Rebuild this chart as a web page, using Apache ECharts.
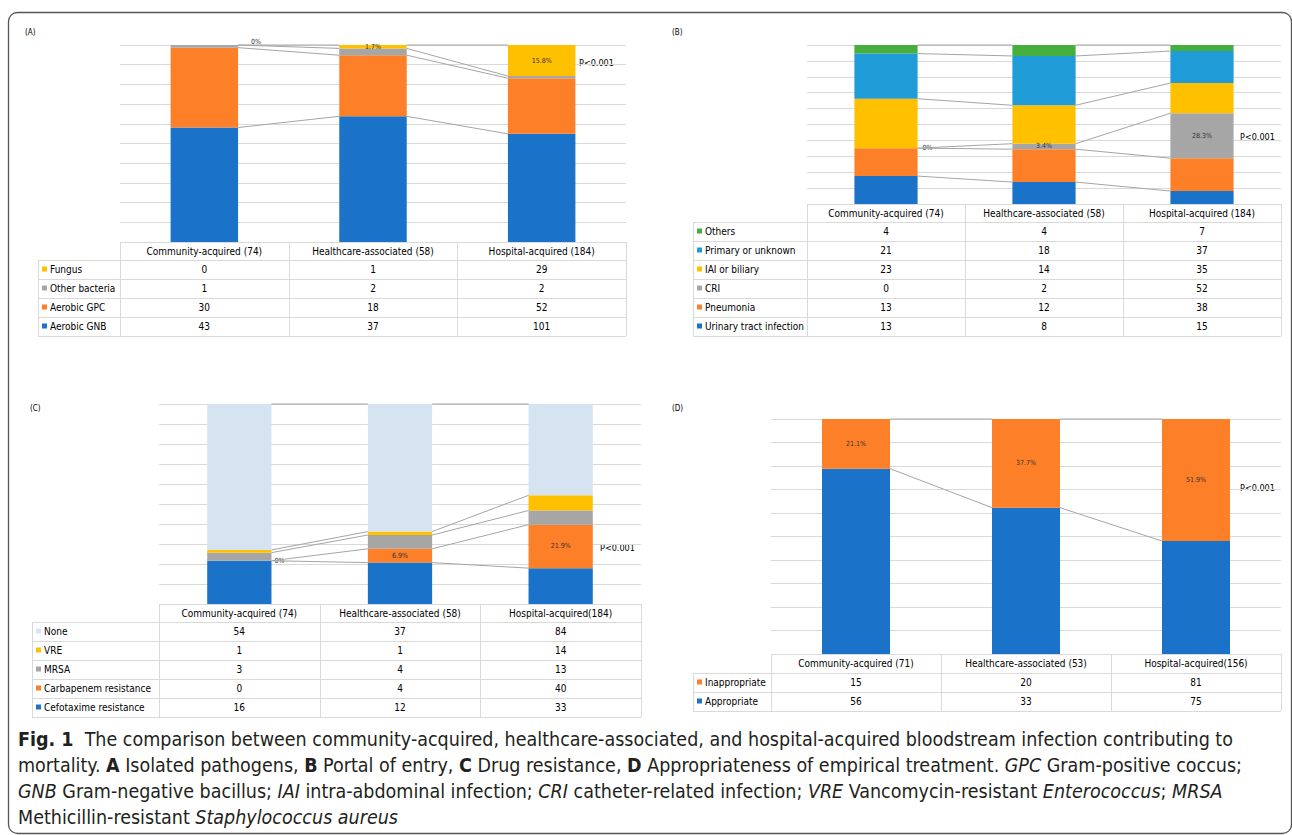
<!DOCTYPE html>
<html>
<head>
<meta charset="utf-8">
<script src="https://cdn.jsdelivr.net/npm/echarts@6/dist/echarts.min.js"></script>
<style>
  html, body { margin: 0; padding: 0; background: #fff; }
  #chart { width: 1292px; height: 835px; }
</style>
</head>
<body>
<div id="chart"></div>
<script>
// ---- data: (A) isolated pathogens
const aCategories = ['Community-acquired (74)', 'Healthcare-associated (58)', 'Hospital-acquired (184)']
const aGNB = [43, 37, 101]
const aGPC = [30, 18, 52]
const aOther = [1, 2, 2]
const aFungus = [0, 1, 29]
const aFungusLabels = ['0%', '1.7%', '15.8%']

// ---- (B) portal of entry
const bCategories = ['Community-acquired (74)', 'Healthcare-associated (58)', 'Hospital-acquired (184)']
const bUTI = [13, 8, 15]
const bPneumonia = [13, 12, 38]
const bCRI = [0, 2, 52]
const bIAI = [23, 14, 35]
const bPrimary = [21, 18, 37]
const bOthers = [4, 4, 7]
const bCRILabels = ['0%', '3.4%', '28.3%']

// ---- (C) drug resistance
const cCategories = ['Community-acquired (74)', 'Healthcare-associated (58)', 'Hospital-acquired(184)']
const cCefotaxime = [16, 12, 33]
const cCarbapenem = [0, 4, 40]
const cMRSA = [3, 4, 13]
const cVRE = [1, 1, 14]
const cNone = [54, 37, 84]
const cCarbapenemLabels = ['0%', '6.9%', '21.9%']

// ---- (D) appropriateness of empirical treatment
const dCategories = ['Community-acquired (71)', 'Healthcare-associated (53)', 'Hospital-acquired(156)']
const dAppropriate = [56, 33, 75]
const dInappropriate = [15, 20, 81]
const dInappropriateLabels = ['21.1%', '37.7%', '51.9%']

const pValueText = 'P<0.001'

// colours
const BLUE = '#1a73c8'
const ORANGE = '#fd7f27'
const GRAY = '#a6a6a6'
const YELLOW = '#ffc000'
const GREEN = '#45ae3d'
const CYAN = '#1f9bd7'
const PALE = '#d6e4f2'
const GRID = '#d9d9d9'
const FONT = '"DejaVu Sans Condensed", "Liberation Sans", sans-serif'
const CAPTION_FONT = '"DejaVu Sans Condensed", "Liberation Sans", sans-serif'

const panels = [
  {
    grid: { left: 120, top: 45, width: 506, height: 197 },
    legendLeft: 38, headH: 18, rowH: 19,
    tag: '(A)', tagPos: [25, 32], pPos: [579, 63], zeroOffset: [10, -3],
    categories: aCategories,
    stack: [
      { name: 'Aerobic GNB', values: aGNB, color: BLUE },
      { name: 'Aerobic GPC', values: aGPC, color: ORANGE },
      { name: 'Other bacteria', values: aOther, color: GRAY },
      { name: 'Fungus', values: aFungus, color: YELLOW, labels: aFungusLabels }
    ]
  },
  {
    grid: { left: 807, top: 45, width: 474, height: 159 },
    legendLeft: 693, headH: 18, rowH: 19,
    tag: '(B)', tagPos: [672, 32], pPos: [1240, 137], zeroOffset: [2, 0],
    categories: bCategories,
    stack: [
      { name: 'Urinary tract infection', values: bUTI, color: BLUE },
      { name: 'Pneumonia', values: bPneumonia, color: ORANGE },
      { name: 'CRI', values: bCRI, color: GRAY, labels: bCRILabels },
      { name: 'IAI or biliary', values: bIAI, color: YELLOW },
      { name: 'Primary or unknown', values: bPrimary, color: CYAN },
      { name: 'Others', values: bOthers, color: GREEN }
    ]
  },
  {
    grid: { left: 159, top: 404, width: 482, height: 200 },
    legendLeft: 32, headH: 18, rowH: 19,
    tag: '(C)', tagPos: [30, 408], pPos: [600, 548], zeroOffset: [0, 0],
    categories: cCategories,
    stack: [
      { name: 'Cefotaxime resistance', values: cCefotaxime, color: BLUE },
      { name: 'Carbapenem resistance', values: cCarbapenem, color: ORANGE, labels: cCarbapenemLabels },
      { name: 'MRSA', values: cMRSA, color: GRAY },
      { name: 'VRE', values: cVRE, color: YELLOW },
      { name: 'None', values: cNone, color: PALE }
    ]
  },
  {
    grid: { left: 771, top: 419, width: 510, height: 235 },
    legendLeft: 693, headH: 19, rowH: 19,
    tag: '(D)', tagPos: [672, 408], pPos: [1240, 488], zeroOffset: [0, 0],
    categories: dCategories,
    stack: [
      { name: 'Appropriate', values: dAppropriate, color: BLUE },
      { name: 'Inappropriate', values: dInappropriate, color: ORANGE, labels: dInappropriateLabels }
    ]
  }
]

const grids = []
const xAxes = []
const yAxes = []
const series = []
const graphics = []

// outer frame
graphics.push({
  type: 'rect', silent: true, z: 0,
  shape: { x: 8.5, y: 12.5, width: 1283, height: 821, r: 9 },
  style: { fill: 'none', stroke: '#555', lineWidth: 1.3 }
})

const hline = (x1, x2, y) => ({
  type: 'line', silent: true,
  shape: { x1, y1: Math.round(y) + 0.5, x2, y2: Math.round(y) + 0.5 },
  style: { stroke: GRID, lineWidth: 1 }
})
const vline = (x, y1, y2) => ({
  type: 'line', silent: true,
  shape: { x1: Math.round(x) + 0.5, y1, x2: Math.round(x) + 0.5, y2 },
  style: { stroke: GRID, lineWidth: 1 }
})

panels.forEach((p, i) => {
  const g = p.grid
  const n = p.categories.length
  const totals = p.categories.map((_, j) => p.stack.reduce((s, st) => s + st.values[j], 0))

  grids.push(g)
  xAxes.push({
    type: 'category', gridIndex: i, data: p.categories,
    axisLine: { show: false }, axisTick: { show: false },
    axisLabel: {
      interval: 0, margin: 0, lineHeight: p.headH,
      fontFamily: FONT, fontSize: 10, color: '#000'
    }
  })
  yAxes.push({
    type: 'value', gridIndex: i, min: 0, max: 100, interval: 10,
    axisLabel: { show: false }, axisLine: { show: false }, axisTick: { show: false },
    splitLine: { lineStyle: { color: GRID, width: 1 } }
  })

  // stacked 100% bars
  p.stack.forEach(st => {
    const data = st.values.map((v, j) => {
      const pct = v / totals[j] * 100
      if (st.labels && v === 0) {
        return {
          value: pct,
          label: { position: 'right', distance: 3, offset: p.zeroOffset }
        }
      }
      return pct
    })
    series.push({
      type: 'bar', name: st.name, xAxisIndex: i, yAxisIndex: i,
      stack: 'panel' + i, barWidth: '40%', data,
      itemStyle: { color: st.color },
      label: st.labels ? {
        show: true, position: 'inside',
        fontFamily: FONT, fontSize: 7, color: '#333',
        formatter: prm => st.labels[prm.dataIndex]
      } : { show: false },
      silent: true
    })
  })

  // series lines joining the top of each segment
  const lineData = []
  let cum = p.categories.map(() => 0)
  p.stack.forEach(st => {
    cum = cum.map((c, j) => c + st.values[j] / totals[j] * 100)
    for (let j = 0; j < n - 1; j++) lineData.push([j, cum[j], cum[j + 1]])
  })
  series.push({
    type: 'custom', xAxisIndex: i, yAxisIndex: i, silent: true, z: 3,
    dimensions: ['cat', 'from', 'to'],
    encode: { x: 0, y: [1, 2] },
    data: lineData,
    renderItem: (params, api) => {
      const j = api.value(0)
      const a = api.coord([j, api.value(1)])
      const b = api.coord([j + 1, api.value(2)])
      const half = api.size([1, 0])[0] * 0.2
      return {
        type: 'line',
        shape: { x1: a[0] + half, y1: a[1], x2: b[0] - half, y2: b[1] },
        style: { stroke: '#a5a5a5', lineWidth: 1 }
      }
    }
  })

  // data table under the plot
  const bandW = g.width / n
  const right = g.left + g.width
  const top = g.top + g.height
  const rowsTop = top + p.headH
  const rows = p.stack.slice().reverse()
  const bottom = rowsTop + rows.length * p.rowH

  graphics.push(hline(g.left, right, top))
  for (let r = 0; r <= rows.length; r++) graphics.push(hline(p.legendLeft, right, rowsTop + r * p.rowH))
  for (let k = 0; k <= n; k++) graphics.push(vline(g.left + k * bandW, top, bottom))
  graphics.push(vline(p.legendLeft, rowsTop, bottom))

  rows.forEach((st, r) => {
    const cy = rowsTop + r * p.rowH + p.rowH / 2
    graphics.push({
      type: 'rect', silent: true,
      shape: { x: p.legendLeft + 4, y: cy - 3, width: 5, height: 5 },
      style: { fill: st.color }
    })
    graphics.push({
      type: 'text', silent: true, x: p.legendLeft + 12, y: cy,
      style: { text: st.name, fontFamily: FONT, fontSize: 10, fill: '#000', verticalAlign: 'middle' }
    })
    st.values.forEach((v, j) => {
      graphics.push({
        type: 'text', silent: true, x: g.left + (j + 0.5) * bandW, y: cy,
        style: { text: String(v), fontFamily: FONT, fontSize: 10, fill: '#000', align: 'center', verticalAlign: 'middle' }
      })
    })
  })

  // panel tag and p-value
  graphics.push({
    type: 'text', silent: true, x: p.tagPos[0], y: p.tagPos[1],
    style: { text: p.tag, fontFamily: FONT, fontSize: 8, fill: '#000', verticalAlign: 'middle' }
  })
  graphics.push({
    type: 'text', silent: true, x: p.pPos[0], y: p.pPos[1],
    style: { text: pValueText, fontFamily: FONT, fontSize: 9, fill: '#000', verticalAlign: 'middle' }
  })
})

// figure caption
const capStyle = { fontFamily: CAPTION_FONT, fontSize: 19.5, fill: '#231f20' }
const captionLines = [
  '{b|Fig. 1}  The comparison between community-acquired, healthcare-associated, and hospital-acquired bloodstream infection contributing to',
  'mortality. {b|A} Isolated pathogens, {b|B} Portal of entry, {b|C} Drug resistance, {b|D} Appropriateness of empirical treatment. {i|GPC} Gram-positive coccus;',
  '{i|GNB} Gram-negative bacillus; {i|IAI} intra-abdominal infection; {i|CRI} catheter-related infection; {i|VRE} Vancomycin-resistant {i|Enterococcus}; {i|MRSA}',
  'Methicillin-resistant {i|Staphylococcus aureus}'
]
captionLines.forEach((line, k) => {
  graphics.push({
    type: 'text', silent: true, x: 18, y: 739 + k * 26.3,
    style: Object.assign({}, capStyle, {
      text: line, verticalAlign: 'middle',
      rich: {
        b: Object.assign({}, capStyle, { fontWeight: 'bold' }),
        i: Object.assign({}, capStyle, { fontStyle: 'italic' })
      }
    })
  })
})

const chart = echarts.init(document.getElementById('chart'), null, { renderer: 'svg' })
chart.setOption({
  animation: false,
  backgroundColor: '#fff',
  grid: grids,
  xAxis: xAxes,
  yAxis: yAxes,
  series,
  graphic: graphics
})
</script>
</body>
</html>
